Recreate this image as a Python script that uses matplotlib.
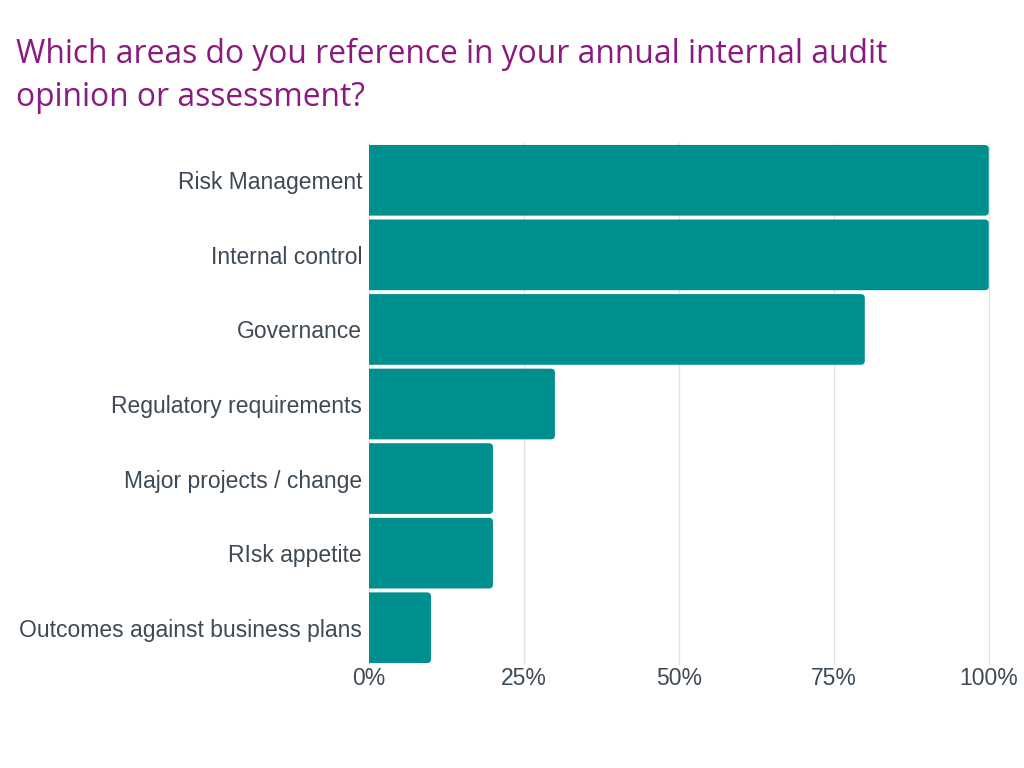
import matplotlib.pyplot as plt
from matplotlib.patches import FancyBboxPatch

categories = ["Risk Management", "Internal control", "Governance",
              "Regulatory requirements", "Major projects / change",
              "RIsk appetite", "Outcomes against business plans"]
values = [100, 100, 80, 30, 20, 20, 10]
xticks = [0, 25, 50, 75, 100]
xtick_labels = ["0%", "25%", "50%", "75%", "100%"]

bar_color = "#008F8F"
text_color = "#3D4A55"

fig = plt.figure(figsize=(10.24, 7.68), dpi=100)
ax = fig.add_axes([369 / 1024, 1 - 665 / 768, 621 / 1024, 522 / 768])

ypos = list(range(len(categories)))
bars = ax.barh(ypos, values, height=0.94, color=bar_color)

# swap the plain rectangles for ones with rounded right corners
for b in bars:
    x0, y0 = b.get_x(), b.get_y()
    w, h = b.get_width(), b.get_height()
    b.set_visible(False)
    r = 0.65
    p = FancyBboxPatch((x0 - 3, y0 + 0.05), w + 3 - r, h - 0.1,
                       boxstyle=f"round,pad={r},rounding_size={r}",
                       mutation_aspect=0.083,
                       facecolor=bar_color, edgecolor="none", zorder=3)
    ax.add_patch(p)

ax.set_xlim(0, 100.2)
ax.set_ylim(len(categories) - 0.5, -0.5)
ax.set_yticks(ypos)
ax.set_yticklabels(categories)
ax.set_xticks(xticks)
ax.set_xticklabels(xtick_labels)

ax.grid(axis="x", color="#E2E2E2", linewidth=1, zorder=0)
ax.set_axisbelow(True)
for s in ax.spines.values():
    s.set_visible(False)

ax.tick_params(axis="y", length=0, pad=5, labelsize=16.5, labelcolor=text_color)
ax.tick_params(axis="x", length=0, pad=1.5, labelsize=16.5, labelcolor=text_color)
for lab in ax.get_xticklabels() + ax.get_yticklabels():
    lab.set_fontfamily("Liberation Sans")

fig.text(16 / 1024, 1 - 76 / 768,
         "Which areas do you reference in your annual internal audit\nopinion or assessment?",
         fontsize=22.9, color="#8A1A80", family="Open Sans",
         ha="left", va="center", linespacing=1.42)

fig.savefig("out.png", dpi=100)
